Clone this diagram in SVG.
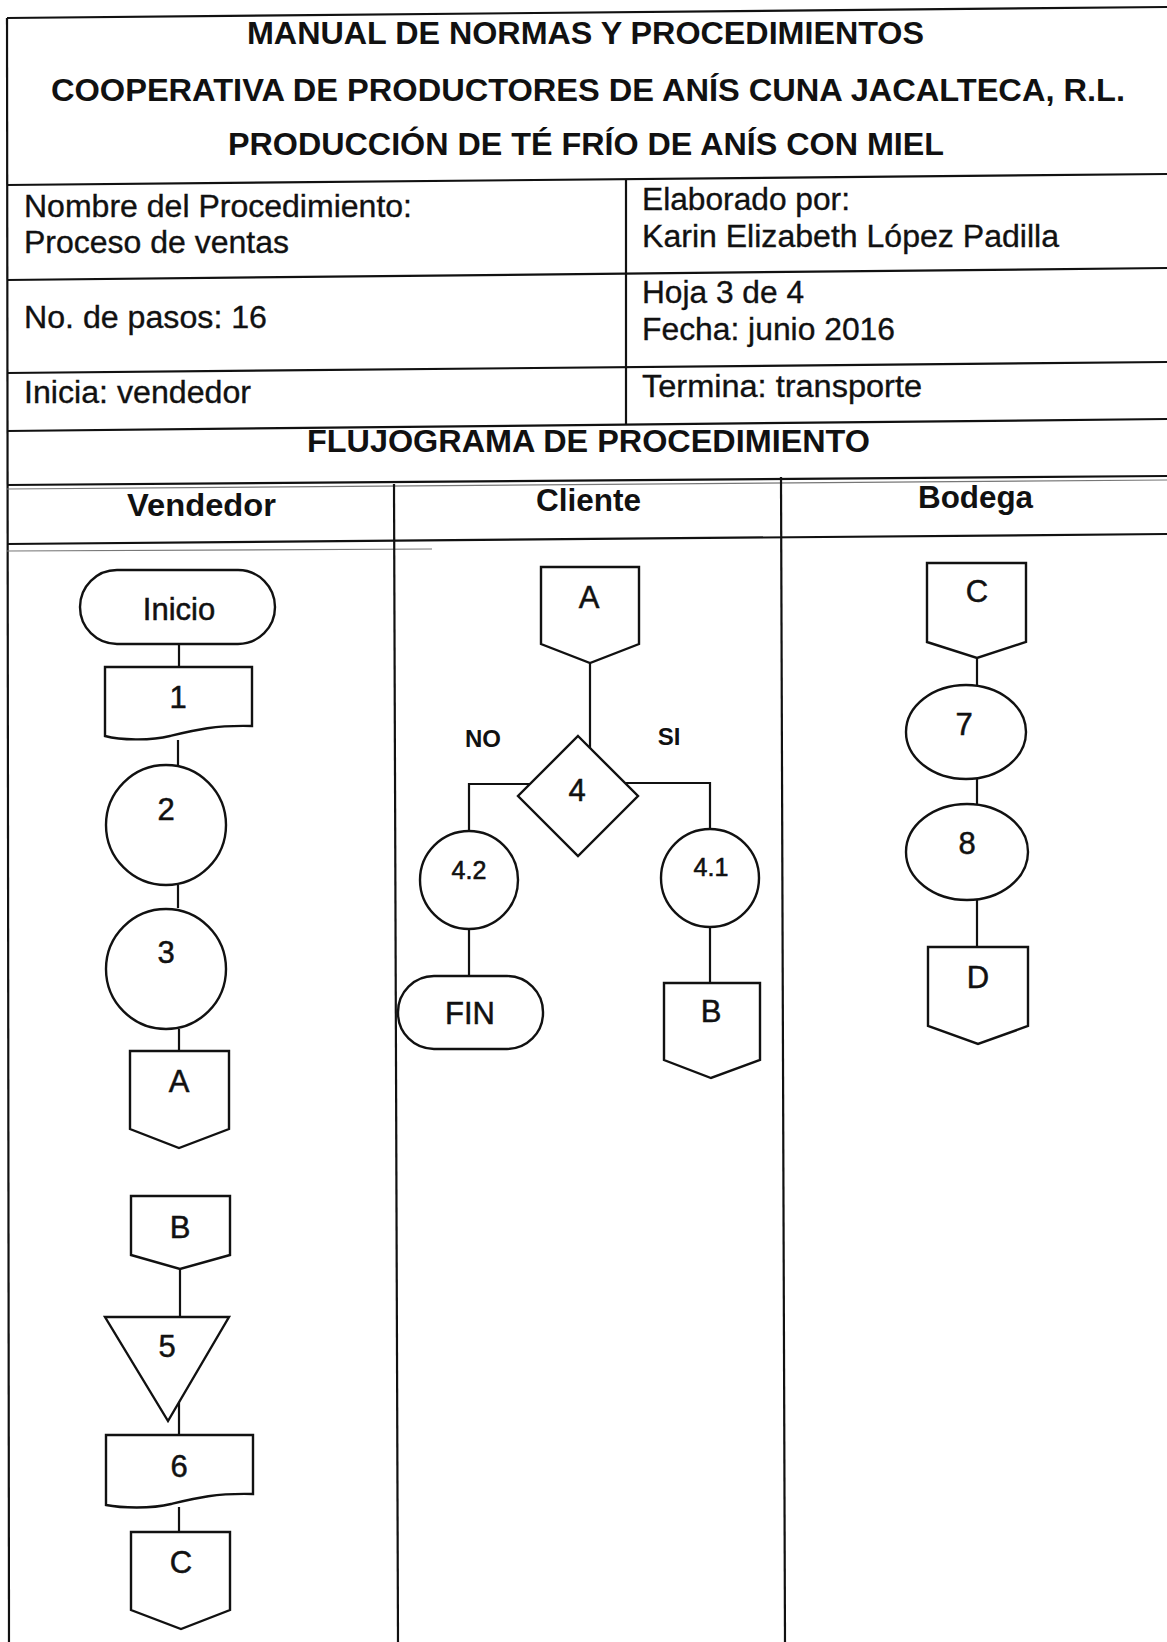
<svg xmlns="http://www.w3.org/2000/svg" width="1167" height="1642" viewBox="0 0 1167 1642">
<style>
.bg{fill:#ffffff}
.ln{stroke:#111;stroke-width:2.2;fill:none}
.ln2{stroke:#777;stroke-width:1.2;fill:none}
.sh{stroke:#111;stroke-width:2.4;fill:#fff}
.cn{stroke:#111;stroke-width:2.2;fill:none}
.tb{font-family:"Liberation Sans",Arial,sans-serif;font-weight:bold;font-size:31px;fill:#111}
.tr{font-family:"Liberation Sans",Arial,sans-serif;font-size:31px;fill:#111;stroke:#111;stroke-width:0.35}
.lb{font-family:"Liberation Sans",Arial,sans-serif;font-size:31px;fill:#111;text-anchor:middle;stroke:#111;stroke-width:0.5}
.lbs{font-family:"Liberation Sans",Arial,sans-serif;font-size:25px;fill:#111;text-anchor:middle;stroke:#111;stroke-width:0.6}
.yn{font-family:"Liberation Sans",Arial,sans-serif;font-weight:bold;font-size:24px;fill:#111;text-anchor:middle}
</style>
<rect class="bg" x="0" y="0" width="1167" height="1642"/>
<g id="table">
<path class="ln" d="M7,18 L1167,7"/>
<path class="ln" d="M7,18 L9,1642"/>
<path class="ln" d="M7,185 L1167,174"/>
<path class="ln" d="M7,280 L1167,268"/>
<path class="ln" d="M7,373 L1167,362"/>
<path class="ln" d="M7,431 L1167,419"/>
<path class="ln" d="M7,485 L1167,476"/>
<path class="ln2" d="M7,489 L1167,480"/>
<path class="ln" d="M7,544 L1167,534"/>
<path class="ln2" d="M7,551 L432,549"/>
<path class="ln" d="M626,180 L626,424"/>
<path class="ln" d="M394,484 L398,1642"/>
<path class="ln" d="M781,477 L785,1642"/>
</g>
<g id="header-text">
<text class="tb" x="247" y="44" textLength="677" lengthAdjust="spacingAndGlyphs">MANUAL DE NORMAS Y PROCEDIMIENTOS</text>
<text class="tb" x="51" y="101" textLength="1074" lengthAdjust="spacingAndGlyphs">COOPERATIVA DE PRODUCTORES DE ANÍS CUNA JACALTECA, R.L.</text>
<text class="tb" x="228" y="155" textLength="716" lengthAdjust="spacingAndGlyphs">PRODUCCIÓN DE TÉ FRÍO DE ANÍS CON MIEL</text>
<text class="tr" x="24" y="217" textLength="388" lengthAdjust="spacingAndGlyphs">Nombre del Procedimiento:</text>
<text class="tr" x="24" y="253" textLength="265" lengthAdjust="spacingAndGlyphs">Proceso de ventas</text>
<text class="tr" x="642" y="210" textLength="208" lengthAdjust="spacingAndGlyphs">Elaborado por:</text>
<text class="tr" x="642" y="247" textLength="417" lengthAdjust="spacingAndGlyphs">Karin Elizabeth López Padilla</text>
<text class="tr" x="24" y="328" textLength="243" lengthAdjust="spacingAndGlyphs">No. de pasos: 16</text>
<text class="tr" x="642" y="303" textLength="162" lengthAdjust="spacingAndGlyphs">Hoja 3 de 4</text>
<text class="tr" x="642" y="340" textLength="253" lengthAdjust="spacingAndGlyphs">Fecha: junio 2016</text>
<text class="tr" x="24" y="403" textLength="227" lengthAdjust="spacingAndGlyphs">Inicia: vendedor</text>
<text class="tr" x="642" y="397" textLength="280" lengthAdjust="spacingAndGlyphs">Termina: transporte</text>
<text class="tb" x="307" y="452" textLength="563" lengthAdjust="spacingAndGlyphs">FLUJOGRAMA DE PROCEDIMIENTO</text>
<text class="tb" x="127" y="516" textLength="149" lengthAdjust="spacingAndGlyphs">Vendedor</text>
<text class="tb" x="536" y="511" textLength="105" lengthAdjust="spacingAndGlyphs">Cliente</text>
<text class="tb" x="918" y="508" textLength="115" lengthAdjust="spacingAndGlyphs">Bodega</text>
</g>
<g id="connectors">
<path class="cn" d="M179,644 V667"/>
<path class="cn" d="M178,740 V765"/>
<path class="cn" d="M178,885 V908"/>
<path class="cn" d="M179,1029 V1051"/>
<path class="cn" d="M180,1269 V1317"/>
<path class="cn" d="M179,1400 V1435"/>
<path class="cn" d="M179,1507 V1532"/>
<path class="cn" d="M590,663 V748"/>
<path class="cn" d="M530,784 H469 V831"/>
<path class="cn" d="M469,929 V976"/>
<path class="cn" d="M625,783 H710 V829"/>
<path class="cn" d="M710,927 V983"/>
<path class="cn" d="M977,658 V685"/>
<path class="cn" d="M977,779 V804"/>
<path class="cn" d="M977,900 V947"/>
</g>
<g id="inicio">
<rect class="sh" x="80" y="570" width="195" height="74" rx="37" ry="37"/>
<text class="lb" x="179" y="620">Inicio</text>
</g>
<g id="doc1">
<path class="sh" d="M105,667 H252 V726 C215,725 195,730 170,736 C150,741 120,740 105,736 Z"/>
<text class="lb" x="178" y="708">1</text>
</g>
<g id="op2">
<circle class="sh" cx="166" cy="825" r="60"/>
<text class="lb" x="166" y="820">2</text>
</g>
<g id="op3">
<circle class="sh" cx="166" cy="969" r="60"/>
<text class="lb" x="166" y="963">3</text>
</g>
<g id="conA-out">
<path class="sh" d="M130,1051 H229 V1129 L179,1148 L130,1129 Z"/>
<text class="lb" x="179" y="1092">A</text>
</g>
<g id="conB-in">
<path class="sh" d="M131,1196 H230 V1255 L180,1269 L131,1255 Z"/>
<text class="lb" x="180" y="1238">B</text>
</g>
<g id="store5">
<path class="sh" d="M105,1317 L229,1317 L168,1421 Z"/>
<text class="lb" x="167" y="1357">5</text>
</g>
<g id="doc6">
<path class="sh" d="M106,1435 H253 V1494 C216,1493 196,1498 171,1504 C151,1509 121,1508 106,1505 Z"/>
<text class="lb" x="179" y="1477">6</text>
</g>
<g id="conC-out">
<path class="sh" d="M131,1532 H230 V1610 L181,1629 L131,1610 Z"/>
<text class="lb" x="181" y="1573">C</text>
</g>
<g id="conA-in">
<path class="sh" d="M541,567 H639 V644 L590,663 L541,644 Z"/>
<text class="lb" x="589" y="608">A</text>
</g>
<g id="dec4">
<path class="sh" d="M578,736 L638,796 L578,856 L518,796 Z"/>
<text class="lb" x="577" y="801">4</text>
</g>
<g id="labels">
<text class="yn" x="483" y="747">NO</text>
<text class="yn" x="669" y="745">SI</text>
</g>
<g id="op42">
<ellipse class="sh" cx="469" cy="880" rx="49" ry="49"/>
<text class="lbs" x="469" y="879">4.2</text>
</g>
<g id="fin">
<rect class="sh" x="398" y="976" width="145" height="73" rx="36" ry="36"/>
<text class="lb" x="470" y="1024">FIN</text>
</g>
<g id="op41">
<ellipse class="sh" cx="710" cy="878" rx="49" ry="49"/>
<text class="lbs" x="711" y="876">4.1</text>
</g>
<g id="conB-out">
<path class="sh" d="M664,983 H760 V1060 L711,1078 L664,1060 Z"/>
<text class="lb" x="711" y="1022">B</text>
</g>
<g id="conC-in">
<path class="sh" d="M927,563 H1026 V642 L977,658 L927,642 Z"/>
<text class="lb" x="977" y="602">C</text>
</g>
<g id="op7">
<ellipse class="sh" cx="966" cy="732" rx="60" ry="47"/>
<text class="lb" x="964" y="735">7</text>
</g>
<g id="op8">
<ellipse class="sh" cx="967" cy="852" rx="61" ry="48"/>
<text class="lb" x="967" y="854">8</text>
</g>
<g id="conD-out">
<path class="sh" d="M928,947 H1028 V1026 L978,1044 L928,1026 Z"/>
<text class="lb" x="978" y="988">D</text>
</g>
</svg>
